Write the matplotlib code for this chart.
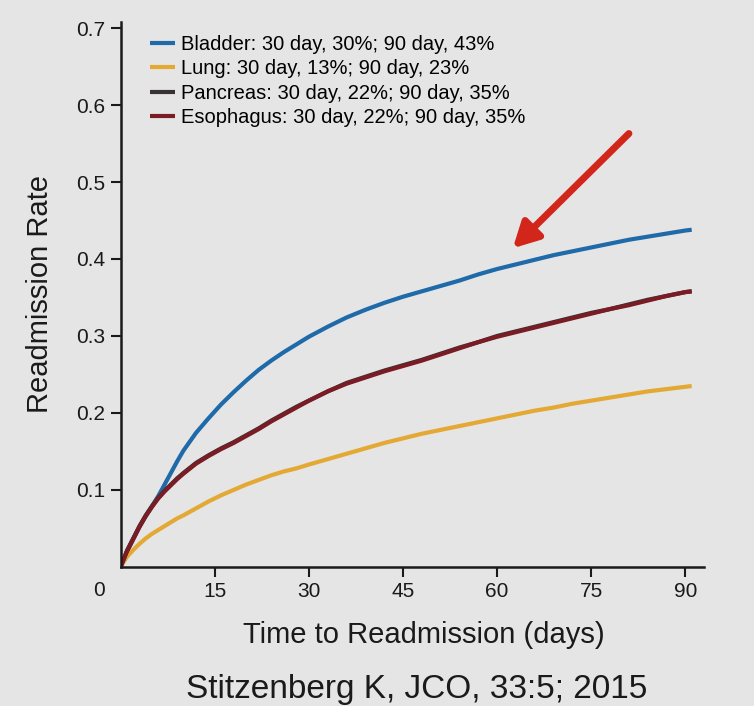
import matplotlib.pyplot as plt
from matplotlib.transforms import blended_transform_factory

# 讀取自圖片的數值 (天數 -> 再入院率)
days = [0, 1, 2, 3, 4, 5, 6, 7, 8, 9, 10, 12, 14, 16, 18, 20, 22, 24, 26, 28,
        30, 33, 36, 39, 42, 45, 48, 51, 54, 57, 60, 63, 66, 69, 72, 75, 78, 81,
        84, 87, 90, 91]

bladder = [0, 0.020, 0.036, 0.052, 0.066, 0.079, 0.092, 0.107, 0.122, 0.137,
           0.151, 0.174, 0.193, 0.211, 0.227, 0.242, 0.256, 0.268, 0.279, 0.289,
           0.299, 0.312, 0.324, 0.334, 0.343, 0.351, 0.358, 0.365, 0.372, 0.380,
           0.387, 0.393, 0.399, 0.405, 0.410, 0.415, 0.420, 0.425, 0.429, 0.433,
           0.437, 0.438]

lung = [0, 0.013, 0.022, 0.030, 0.037, 0.043, 0.048, 0.053, 0.058, 0.063,
        0.067, 0.076, 0.085, 0.093, 0.100, 0.107, 0.113, 0.119, 0.124, 0.128,
        0.133, 0.140, 0.147, 0.154, 0.161, 0.167, 0.173, 0.178, 0.183, 0.188,
        0.193, 0.198, 0.203, 0.207, 0.212, 0.216, 0.220, 0.224, 0.228, 0.231,
        0.234, 0.235]

pancreas = [0, 0.021, 0.037, 0.053, 0.067, 0.079, 0.090, 0.099, 0.107, 0.115,
            0.122, 0.135, 0.145, 0.154, 0.162, 0.171, 0.180, 0.190, 0.199, 0.208,
            0.216, 0.228, 0.239, 0.247, 0.255, 0.262, 0.269, 0.277, 0.285, 0.292,
            0.300, 0.306, 0.312, 0.318, 0.324, 0.330, 0.335, 0.341, 0.347, 0.352,
            0.357, 0.358]

esophagus = [0, 0.020, 0.036, 0.052, 0.066, 0.078, 0.089, 0.098, 0.106, 0.114,
             0.121, 0.134, 0.144, 0.153, 0.161, 0.170, 0.179, 0.189, 0.198, 0.207,
             0.216, 0.228, 0.238, 0.246, 0.254, 0.261, 0.268, 0.276, 0.284, 0.292,
             0.299, 0.305, 0.311, 0.317, 0.323, 0.329, 0.335, 0.340, 0.346, 0.352,
             0.357, 0.358]

labels = ["Bladder: 30 day, 30%; 90 day, 43%",
          "Lung: 30 day, 13%; 90 day, 23%",
          "Pancreas: 30 day, 22%; 90 day, 35%",
          "Esophagus: 30 day, 22%; 90 day, 35%"]
colors = ["#1f6aa8", "#e3a934", "#363236", "#7b1c25"]

x_ticks = [15, 30, 45, 60, 75, 90]
y_ticks = [0.1, 0.2, 0.3, 0.4, 0.5, 0.6, 0.7]

plt.rcParams["font.family"] = ["Liberation Sans", "DejaVu Sans"]

bg = "#e5e5e5"
ink = "#1a1a1a"
fig = plt.figure(figsize=(7.54, 7.06), dpi=100, facecolor=bg)
ax = fig.add_axes([0.16, 0.197, 0.774, 0.772], facecolor=bg)

series = [bladder, lung, pancreas, esophagus]
for vals, lab, col in zip(series, labels, colors):
    ax.plot(days, vals, color=col, lw=3, label=lab, solid_capstyle="butt")

ax.set_xlim(0, 93)
ax.set_ylim(0, 0.708)
ax.set_xticks(x_ticks)
ax.set_yticks(y_ticks)
ax.set_xticklabels([str(t) for t in x_ticks], fontsize=15)
ax.set_yticklabels([f"{t:.1f}" for t in y_ticks], fontsize=15)
ax.tick_params(direction="out", length=7, width=1.5, colors=ink, pad=4)

for side in ["top", "right"]:
    ax.spines[side].set_visible(False)
for side in ["left", "bottom"]:
    ax.spines[side].set_linewidth(1.8)
    ax.spines[side].set_color(ink)

# 原點的 "0"
trans = blended_transform_factory(ax.transData, ax.transAxes)
ax.text(-3.4, -0.025, "0", transform=trans, ha="center", va="top",
        fontsize=15, color=ink)

ax.set_xlabel("Time to Readmission (days)", fontsize=21, color=ink)
ax.xaxis.set_label_coords(0.52, -0.1)
ax.set_ylabel("Readmission Rate", fontsize=21, labelpad=16, color=ink)

leg = ax.legend(loc="upper left", bbox_to_anchor=(0.02, 1.01), frameon=False,
                handlelength=1.2, handletextpad=0.3, labelspacing=0.28,
                prop={"size": 14.5})
for line in leg.get_lines():
    line.set_linewidth(3)

# 紅色箭頭
ax.annotate("", xy=(62.5, 0.414), xytext=(81, 0.563),
            arrowprops=dict(arrowstyle="-|>,head_length=1.5,head_width=0.8",
                            color="#d2261b", lw=5, shrinkA=0, shrinkB=0))

fig.text(0.553, 0.012, "Stitzenberg K, JCO, 33:5; 2015", ha="center",
         va="baseline", fontsize=24, color=ink)

fig.savefig("out.png", dpi=100, facecolor=bg)
